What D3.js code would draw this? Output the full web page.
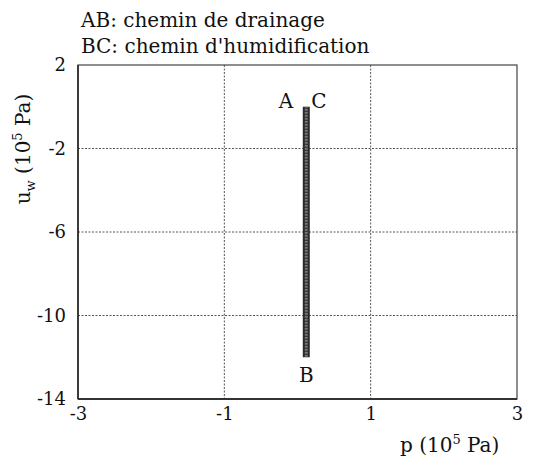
<!DOCTYPE html>
<html><head><meta charset="utf-8">
<script src="https://cdn.jsdelivr.net/npm/d3@7"></script>
<style>body{margin:0;background:#fff}svg text{fill:#111}</style>
</head><body><svg id="c" width="539" height="465"></svg>
<script>
const xTicks = [-3, -1, 1, 3];
const yTicks = [2, -2, -6, -10, -14];
const pathP = [0.12, 0.12, 0.12];
const pathU = [0, -12, 0];
const pointLabels = ["A", "B", "C"];
const legendLines = ["AB: chemin de drainage", "BC: chemin d'humidification"];

const FONT = "DejaVu Serif";
const FS = 20;
const TFS = 18;
const svg = d3.select("#c").attr("font-family", FONT);
const m = {l:78, r:517, t:65, b:399};
const x = d3.scaleLinear().domain([-3,3]).range([m.l,m.r]);
const y = d3.scaleLinear().domain([-14,2]).range([m.b,m.t]);

// grid
svg.append("g").selectAll("line").data(xTicks.filter(d=>d>-3&&d<3)).join("line")
  .attr("x1",d=>x(d)).attr("x2",d=>x(d)).attr("y1",m.t).attr("y2",m.b)
  .attr("stroke","#555").attr("stroke-width",1).attr("stroke-dasharray","2,1.5");
svg.append("g").selectAll("line").data(yTicks.filter(d=>d>-14&&d<2)).join("line")
  .attr("y1",d=>y(d)).attr("y2",d=>y(d)).attr("x1",m.l).attr("x2",m.r)
  .attr("stroke","#555").attr("stroke-width",1).attr("stroke-dasharray","2,1.5");

// frame
svg.append("rect").attr("x",m.l).attr("y",m.t).attr("width",m.r-m.l).attr("height",m.b-m.t)
  .attr("fill","none").attr("stroke","#444").attr("stroke-width",1.2);
svg.append("line").attr("x1",m.l).attr("x2",m.l).attr("y1",m.t).attr("y2",m.b).attr("stroke","#333").attr("stroke-width",1.8);
svg.append("line").attr("x1",m.l).attr("x2",m.r).attr("y1",m.b).attr("y2",m.b).attr("stroke","#333").attr("stroke-width",1.8);

// axes tick labels
const fmt = d => String(d);
const xAxis = d3.axisBottom(x).tickValues(xTicks).tickFormat(fmt).tickSize(0).tickPadding(8);
const gx = svg.append("g").attr("transform",`translate(0,${m.b})`).call(xAxis);
gx.attr("font-family",FONT).attr("font-size",TFS);
gx.select(".domain").remove();
gx.selectAll("text").attr("fill","#111");
const yAxis = d3.axisLeft(y).tickValues(yTicks).tickFormat(fmt).tickSize(0).tickPadding(12);
const gy = svg.append("g").attr("transform",`translate(${m.l},0)`).call(yAxis);
gy.attr("font-family",FONT).attr("font-size",TFS);
gy.select(".domain").remove();
gy.selectAll("text").attr("fill","#111");

// data path
const pts = pathP.map((p,i)=>[p,pathU[i]]);
svg.append("path").datum(pts)
  .attr("d", d3.line().x(d=>x(d[0])).y(d=>y(d[1])))
  .attr("fill","none").attr("stroke","#2a2a2a").attr("stroke-width",7).attr("stroke-linecap","butt");
svg.append("path").datum(pts)
  .attr("d", d3.line().x(d=>x(d[0])).y(d=>y(d[1])))
  .attr("fill","none").attr("stroke","#777").attr("stroke-width",3).attr("stroke-dasharray","1,2");

// point labels
const lab = svg.append("g").attr("font-size",FS);
lab.append("text").attr("x",x(pathP[0])-13).attr("y",y(pathU[0])+1).attr("text-anchor","end").text(pointLabels[0]);
lab.append("text").attr("x",x(pathP[2])+5).attr("y",y(pathU[2])+1).attr("text-anchor","start").text(pointLabels[2]);
lab.append("text").attr("x",x(pathP[1])).attr("y",y(pathU[1])+25).attr("text-anchor","middle").text(pointLabels[1]);

// legend text
svg.append("g").selectAll("text").data(legendLines).join("text")
  .attr("x",81).attr("y",(d,i)=>27+i*26).attr("font-size",FS).text(d=>d);

// axis titles
const xt = svg.append("text").attr("x",400).attr("y",452).attr("font-size",FS);
xt.append("tspan").text("p (10");
xt.append("tspan").attr("font-size",13).attr("dy",-8).text("5");
xt.append("tspan").attr("dy",8).text(" Pa)");

const yt = svg.append("text").attr("transform","translate(30,149) rotate(-90)").attr("text-anchor","middle").attr("font-size",FS);
yt.append("tspan").text("u");
yt.append("tspan").attr("font-size",13).attr("dy",5).text("w");
yt.append("tspan").attr("dy",-5).text(" (10");
yt.append("tspan").attr("font-size",13).attr("dy",-8).text("5");
yt.append("tspan").attr("dy",8).text(" Pa)");
</script></body></html>
